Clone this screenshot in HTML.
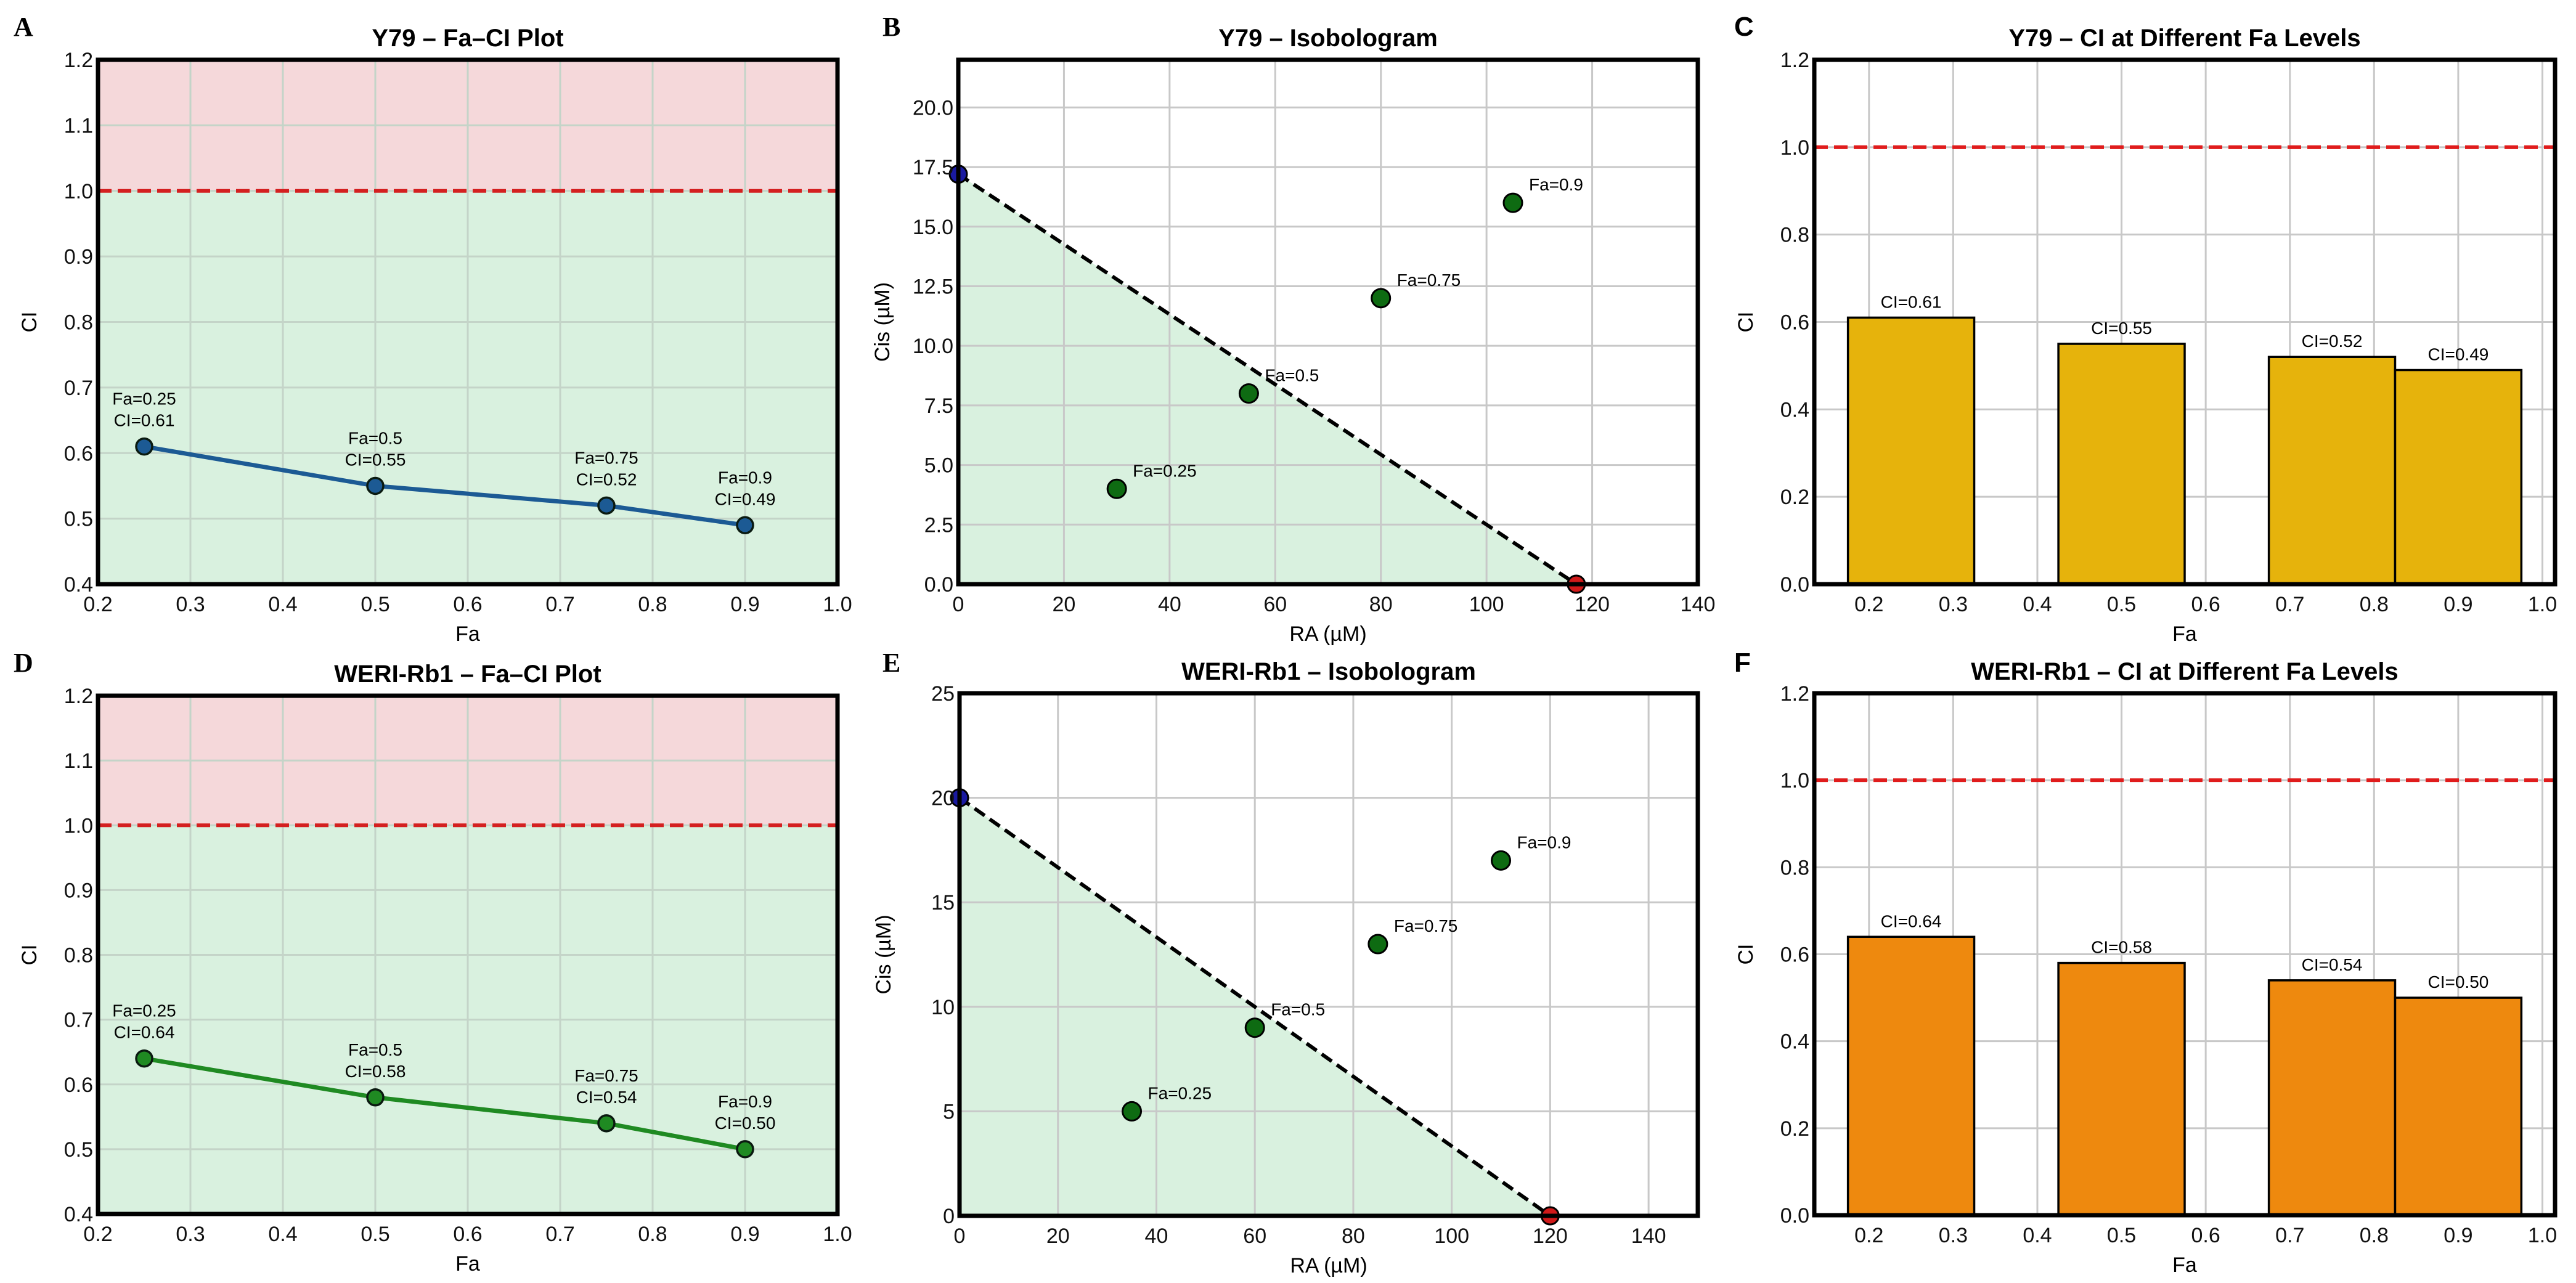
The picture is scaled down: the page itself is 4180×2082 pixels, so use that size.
<!DOCTYPE html>
<html><head><meta charset="utf-8"><style>
html,body{margin:0;padding:0;background:#fff;}
svg{display:block;font-family:"Liberation Sans","DejaVu Sans",sans-serif;}
</style></head><body>
<svg id="fig" width="4180" height="2082" viewBox="0 0 4180 2082" xmlns="http://www.w3.org/2000/svg"></svg>
<script>
// ---- data ----
const faLevels = [0.25, 0.5, 0.75, 0.9];
const y79CI = [0.61, 0.55, 0.52, 0.49];
const weriCI = [0.64, 0.58, 0.54, 0.50];
const y79RA = [30, 55, 80, 105];
const y79Cis = [4, 8, 12, 16];
const y79IC50 = [117, 17.2];
const weriRA = [35, 60, 85, 110];
const weriCis = [5, 9, 13, 17];
const weriIC50 = [120, 20];
const faTicks = [0.2,0.3,0.4,0.5,0.6,0.7,0.8,0.9,1.0];
const ciTicksLine = [0.4,0.5,0.6,0.7,0.8,0.9,1.0,1.1,1.2];
const ciTicksBar = [0.0,0.2,0.4,0.6,0.8,1.0,1.2];
const y79IsoXTicks = [0,20,40,60,80,100,120,140];
const y79IsoYTicks = [0,2.5,5,7.5,10,12.5,15,17.5,20];
const weriIsoXTicks = [0,20,40,60,80,100,120,140];
const weriIsoYTicks = [0,5,10,15,20,25];

const svg = document.getElementById('fig');
const NS = 'http://www.w3.org/2000/svg';
function el(tag, attrs, parent, text){
  const e = document.createElementNS(NS, tag);
  for (const k in attrs) e.setAttribute(k, attrs[k]);
  if (text !== undefined) e.textContent = text;
  (parent||svg).appendChild(e);
  return e;
}
function lin(d0,d1,r0,r1){ return v => r0 + (v-d0)/(d1-d0)*(r1-r0); }

function frame(g, L,T,R,B, xs, ys, xt, yt, xfmt, yfmt, title, xlab, ylab, letter, letterFont, gridColor){
  // gridlines
  xt.forEach(v=>{ const l=el('line',{x1:xs(v),x2:xs(v),y1:T,y2:B,stroke:gridColor,'stroke-width':3},g);
      });
  yt.forEach(v=>{ const l=el('line',{x1:L,x2:R,y1:ys(v),y2:ys(v),stroke:gridColor,'stroke-width':3},g);
      });
}
function axesText(g,L,T,R,B,xs,ys,xt,yt,xfmt,yfmt,title,xlab,ylab,letter,letterFont,lx,ly,ylabX){
  el('rect',{x:L,y:T,width:R-L,height:B-T,fill:'none',stroke:'#000','stroke-width':7,},g);
  xt.forEach(v=>{ const t=el('text',{x:xs(v),y:B+44,'font-size':34,'text-anchor':'middle',fill:'#111'},g,xfmt(v));
      });
  yt.forEach(v=>{ const t=el('text',{x:L-8,y:ys(v)+12,'font-size':34,'text-anchor':'end',fill:'#111'},g,yfmt(v));
      });
  el('text',{x:(L+R)/2,y:T-22,'font-size':40,'font-weight':'bold','text-anchor':'middle',},g,title);
  el('text',{x:(L+R)/2,y:B+92,'font-size':34,'text-anchor':'middle',},g,xlab);
  el('text',{x:ylabX,y:(T+B)/2,'font-size':34,'text-anchor':'middle',transform:`rotate(-90 ${ylabX} ${(T+B)/2})`,},g,ylab);
  el('text',{x:lx,y:ly,'font-size':44,'font-weight':'bold','font-family':letterFont,},g,letter);
}
const f1 = v=>v.toFixed(1);
const f0 = v=>String(v);

// ---- Fa-CI line plots ----
function faciPlot(id,L,T,R,B,ci,color,title,letter,lx,ly){
  const g = el('g',{});
  const xs = lin(0.2,1.0,L,R), ys = lin(0.4,1.2,B,T);
  el('rect',{x:L,y:T,width:R-L,height:ys(1.0)-T,fill:'#f5d8da',},g);
  el('rect',{x:L,y:ys(1.0),width:R-L,height:B-ys(1.0),fill:'#d9f1df',},g);
  frame(g,L,T,R,B,xs,ys,faTicks,ciTicksLine,null,null,null,null,null,null,null,'#c4d4c8');
  el('line',{x1:L,x2:R,y1:ys(1.0),y2:ys(1.0),stroke:'#d42020','stroke-width':6,'stroke-dasharray':'22 10',},g);
  const pts = faLevels.map((f,i)=>`${xs(f)},${ys(ci[i])}`).join(' ');
  el('polyline',{points:pts,fill:'none',stroke:color,'stroke-width':7,},g);
  faLevels.forEach((f,i)=>{
    const c=el('circle',{cx:xs(f),cy:ys(ci[i]),r:13,fill:color,stroke:'#0a1a10','stroke-width':3.5},g);
     
    const t1=el('text',{x:xs(f),y:ys(ci[i])-68,'font-size':28,'text-anchor':'middle'},g,'Fa='+f);
     
    const t2=el('text',{x:xs(f),y:ys(ci[i])-33,'font-size':28,'text-anchor':'middle'},g,'CI='+ci[i].toFixed(2));
     
  });
  axesText(g,L,T,R,B,xs,ys,faTicks,ciTicksLine,f1,f1,title,'Fa','CI',letter,'"Liberation Serif",serif',lx,ly,L-100);
}
faciPlot('panel-a',159,97,1359,948,y79CI,'#1c5a94','Y79 – Fa–CI Plot','A',22,58);
faciPlot('panel-d',159,1129,1359,1970,weriCI,'#1f8a22','WERI-Rb1 – Fa–CI Plot','D',22,1090);

// ---- Isobolograms ----
function isoPlot(id,L,T,R,B,xmax,ymax,xt,yt,yfmt,ra,cis,ic50,title,letter,lx,ly){
  const g = el('g',{});
  const xs = lin(0,xmax,L,R), ys = lin(0,ymax,B,T);
  el('polygon',{points:`${xs(0)},${ys(0)} ${xs(0)},${ys(ic50[1])} ${xs(ic50[0])},${ys(0)}`,fill:'#d9f1df',},g);
  frame(g,L,T,R,B,xs,ys,xt,yt,null,null,null,null,null,null,null,'#c8c8c8');
  el('line',{x1:xs(0),y1:ys(ic50[1]),x2:xs(ic50[0]),y2:ys(0),stroke:'#000','stroke-width':6,'stroke-dasharray':'20 10',},g);
  el('circle',{cx:xs(0),cy:ys(ic50[1]),r:14,fill:'#1a1aa0',stroke:'#000','stroke-width':3,},g);
  el('circle',{cx:xs(ic50[0]),cy:ys(0),r:14,fill:'#d01a1a',stroke:'#000','stroke-width':3,},g);
  ra.forEach((x,i)=>{
    const c=el('circle',{cx:xs(x),cy:ys(cis[i]),r:15,fill:'#0e6b12',stroke:'#000','stroke-width':3},g);
     
    const t=el('text',{x:xs(x)+26,y:ys(cis[i])-20,'font-size':28},g,'Fa='+faLevels[i]);
     
  });
  axesText(g,L,T,R,B,xs,ys,xt,yt,f0,yfmt,title,'RA (µM)','Cis (µM)',letter,'"Liberation Serif",serif',lx,ly,L-112);
}
isoPlot('panel-b',1555,97,2755,948,140,22,y79IsoXTicks,y79IsoYTicks,f1,y79RA,y79Cis,y79IC50,'Y79 – Isobologram','B',1432,58);
isoPlot('panel-e',1557,1125,2755,1973,150,25,weriIsoXTicks,weriIsoYTicks,f0,weriRA,weriCis,weriIC50,'WERI-Rb1 – Isobologram','E',1432,1090);

// ---- Bar charts ----
function barPlot(id,L,T,R,B,ci,color,title,letter,lx,ly,font){
  const g = el('g',{});
  const xs = lin(0.135,1.015,L,R), ys = lin(0,1.2,B,T);
  frame(g,L,T,R,B,xs,ys,faTicks,ciTicksBar,null,null,null,null,null,null,null,'#c8c8c8');
  faLevels.forEach((f,i)=>{
    const r=el('rect',{x:xs(f-0.075),y:ys(ci[i]),width:xs(f+0.075)-xs(f-0.075),height:B-ys(ci[i]),fill:color,stroke:'#000','stroke-width':3.5},g);
     
    const t=el('text',{x:xs(f),y:ys(ci[i])-16,'font-size':28,'text-anchor':'middle'},g,'CI='+ci[i].toFixed(2));
     
  });
  el('line',{x1:L,x2:R,y1:ys(1.0),y2:ys(1.0),stroke:'#e01c1c','stroke-width':6,'stroke-dasharray':'22 10',},g);
  axesText(g,L,T,R,B,xs,ys,faTicks,ciTicksBar,f1,f1,title,'Fa','CI',letter,font,lx,ly,L-100);
}
barPlot('panel-c',2944,97,4146,948,y79CI,'#e6b30c','Y79 – CI at Different Fa Levels','C',2814,58,'"Liberation Sans",sans-serif');
barPlot('panel-f',2944,1125,4146,1972,weriCI,'#ee890e','WERI-Rb1 – CI at Different Fa Levels','F',2814,1090,'"Liberation Sans",sans-serif');
</script>
</body></html>
